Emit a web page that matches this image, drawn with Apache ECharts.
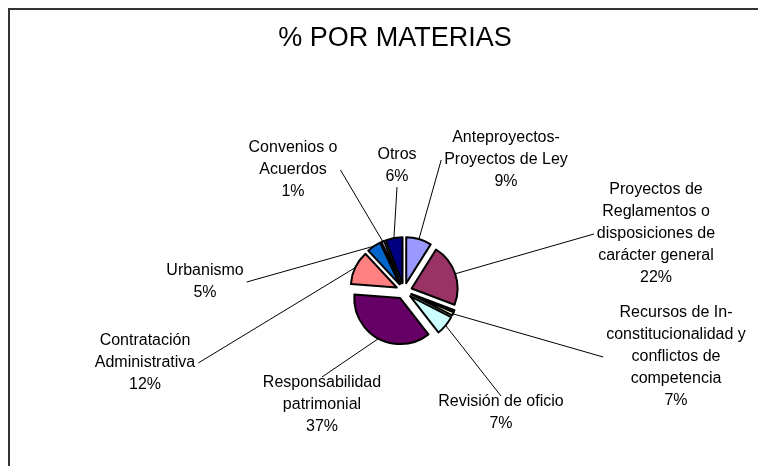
<!DOCTYPE html>
<html>
<head>
<meta charset="utf-8">
<script src="https://cdn.jsdelivr.net/npm/echarts@6/dist/echarts.min.js"></script>
<style>
  html, body { margin: 0; padding: 0; background: #fff; }
  #chart { width: 758px; height: 466px; }
</style>
</head>
<body>
<div id="chart"></div>
<script>
// categorias (orden de las porciones, en sentido horario desde las 12)
var categories = [
  "Anteproyectos-\nProyectos de Ley",
  "Proyectos de\nReglamentos o\ndisposiciones de\ncarácter general",
  "",
  "Recursos de In-\nconstitucionalidad y\nconflictos de\ncompetencia",
  "Revisión de oficio",
  "Responsabilidad\npatrimonial",
  "Contratación\nAdministrativa",
  "Urbanismo",
  "Convenios o\nAcuerdos",
  "Otros"
];
// tamaño de cada porción
var sliceValues = [9, 22, 0.6, 1.2, 7, 37, 12, 5, 1, 6];
// porcentaje escrito en cada etiqueta
var pctLabels = [9, 22, null, 7, 7, 37, 12, 5, 1, 6];

var colors = ["#9999FF", "#993366", "#FFFFFF", "#FFFFCC", "#CCFFFF",
  "#660066", "#FF8080", "#0066CC", "#CCCCFF", "#000080"];

// posicion del centro de cada etiqueta y lado donde llega la linea guia
var labelPos = [
  [506, 160], [656, 234], null, [676, 357], [501, 413],
  [322, 405], [145, 363], [205, 282], [293, 170], [397, 166]
];
var labelSide = ["left", "left", null, "left", "top",
  "top", "right", "right", "right", "bottom"];

var FONT_SIZE = 16;
var LINE_H = 22;
var FONT_FAMILY = "Liberation Sans, Arial";
var OFFSET = 8;

var chart = echarts.init(document.getElementById("chart"));

var pieData = [];
for (var i = 0; i < categories.length; i++) {
  pieData.push({
    name: categories[i],
    value: sliceValues[i],
    selected: true,
    itemStyle: { color: colors[i] }
  });
}

var frame = {
  type: "rect",
  shape: { x: 9, y: 9, width: 760, height: 470 },
  style: { fill: "none", stroke: "#333", lineWidth: 2 },
  silent: true
};

chart.setOption({
  animation: false,
  title: {
    text: "% POR MATERIAS",
    left: 390,
    top: 20,
    textAlign: "center",
    textStyle: {
      fontFamily: FONT_FAMILY,
      fontSize: 27,
      fontWeight: "normal",
      color: "#000"
    }
  },
  graphic: [frame],
  series: [
    {
      type: "pie",
      center: [404, 291],
      radius: [0, 46],
      startAngle: 90,
      clockwise: true,
      selectedMode: "multiple",
      selectedOffset: OFFSET,
      avoidLabelOverlap: false,
      itemStyle: { borderColor: "#000", borderWidth: 2 },
      select: { itemStyle: { borderColor: "#000", borderWidth: 2 } },
      emphasis: { disabled: true },
      label: { show: false },
      labelLine: { show: false },
      data: pieData
    }
  ]
});

// etiquetas y lineas guia, a partir del layout de cada porcion
var ctx = document.createElement("canvas").getContext("2d");
ctx.font = FONT_SIZE + "px " + FONT_FAMILY;
var pieSeries = chart.getModel().getSeriesByIndex(0).getData();
var graphics = [frame];

for (var k = 0; k < categories.length; k++) {
  var pos = labelPos[k];
  if (!pos || pctLabels[k] == null) continue;
  var text = categories[k] + "\n" + pctLabels[k] + "%";
  var lines = text.split("\n");
  var w = 0;
  lines.forEach(function (ln) { w = Math.max(w, ctx.measureText(ln).width); });
  var h = lines.length * LINE_H;

  // punto medio del arco (con el desplazamiento de la porcion)
  var lay = pieSeries.getItemLayout(k);
  var mid = (lay.startAngle + lay.endAngle) / 2;
  var cx = lay.cx + Math.cos(mid) * OFFSET;
  var cy = lay.cy + Math.sin(mid) * OFFSET;
  var anchor = [cx + Math.cos(mid) * lay.r, cy + Math.sin(mid) * lay.r];

  var end;
  switch (labelSide[k]) {
    case "top": end = [pos[0], pos[1] - h / 2 + 5]; break;
    case "bottom": end = [pos[0], pos[1] + h / 2 - 1]; break;
    case "right": end = [pos[0] + w / 2 + 3, pos[1]]; break;
    default: end = [pos[0] - w / 2 - 3, pos[1]];
  }

  graphics.push({
    type: "polyline",
    silent: true,
    shape: { points: [anchor, end] },
    style: { stroke: "#000", lineWidth: 1, fill: "none" }
  });
  graphics.push({
    type: "text",
    silent: true,
    x: pos[0],
    y: pos[1],
    style: {
      text: text,
      fontSize: FONT_SIZE,
      fontFamily: FONT_FAMILY,
      lineHeight: LINE_H,
      fill: "#000",
      align: "center",
      verticalAlign: "middle"
    }
  });
}

chart.setOption({ graphic: graphics }, { replaceMerge: ["graphic"] });
</script>
</body>
</html>
